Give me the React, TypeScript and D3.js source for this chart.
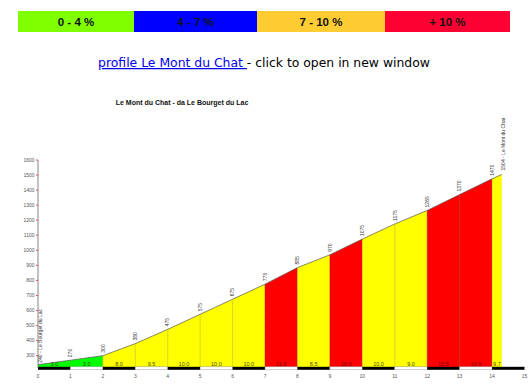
import React from "react";
import * as d3 from "d3";

// profile points (km, altitude) and the gradient of each stretch
const km = [0, 1, 2, 3, 4, 5, 6, 7, 8, 9, 10, 11, 12, 13, 14, 14.3];
const altitude = [240, 270, 300, 380, 475, 575, 675, 775, 885, 970, 1075, 1175, 1265, 1370, 1475, 1504];
const gradient = [3.0, 3.0, 8.0, 9.5, 10.0, 10.0, 10.0, 11.0, 8.5, 10.5, 10.0, 9.0, 10.5, 10.5, 9.7];
const yTicks = [300, 400, 500, 600, 700, 800, 900, 1000, 1100, 1200, 1300, 1400, 1500, 1600];
const xTicks = [0, 1, 2, 3, 4, 5, 6, 7, 8, 9, 10, 11, 12, 13, 14, 15];
const startLabel = "240 - Le Bourget du Lac";
const endLabel = "1504 - Le Mont du Chat";
const title = "Le Mont du Chat - da Le Bourget du Lac";

const legendLabels = ["0 - 4 %", "4 - 7 %", "7 - 10 %", "+ 10 %"];
const legendColors = ["#80ff00", "#0000ff", "#ffcc33", "#ff0033"];
const legendEdges = [18, 134, 257, 385, 510];

const fillFor = (g: number) => (g < 4 ? "#00ff00" : g < 7 ? "#0000ff" : g <= 10 ? "#ffff00" : "#ff0000");
const dashFor = (g: number) => (g < 4 ? "#00a000" : g < 7 ? "#000090" : g <= 10 ? "#a09a00" : "#9a0000");

export default function App() {
  const width = 532;
  const height = 385;
  const x = d3.scaleLinear().domain([0, 15]).range([38, 524.5]);
  const y = d3.scaleLinear().domain([220, 1600]).range([367.7, 160]);
  const base = y(220);

  const line = d3
    .line<number>()
    .x((d, i) => x(km[i]))
    .y((d) => y(d));

  const fmt = d3.format(".1f");

  return (
    <svg
      width={width}
      height={height}
      style={{ position: "absolute", left: 0, top: 0, background: "#fff" }}
      fontFamily="Arial, 'Liberation Sans', sans-serif"
    >
      {/* legend bar */}
      {legendLabels.map((l, i) => (
        <g key={l}>
          <rect
            x={legendEdges[i]}
            y={11}
            width={legendEdges[i + 1] - legendEdges[i]}
            height={21}
            fill={legendColors[i]}
          />
          <text
            x={(legendEdges[i] + legendEdges[i + 1]) / 2}
            y={21.5}
            dy="0.35em"
            textAnchor="middle"
            fontSize={11.5}
            fontWeight="bold"
            fill="#111"
          >
            {l}
          </text>
        </g>
      ))}

      {/* link line */}
      <text x={264} y={67} textAnchor="middle" fontSize={12.4} fontFamily="Verdana, 'DejaVu Sans', sans-serif">
        <tspan fill="#0000ee" textDecoration="underline">profile Le Mont du Chat </tspan>
        <tspan fill="#000"> - click to open in new window</tspan>
      </text>

      <text x={182} y={103} dy="0.35em" textAnchor="middle" fontSize={7} fontWeight="bold" fill="#111">
        {title}
      </text>

      {/* coloured stretches */}
      {gradient.map((g, i) => {
        const x0 = x(km[i]);
        const x1 = x(km[i + 1]);
        return (
          <polygon
            key={"s" + i}
            points={`${x0},${base} ${x0},${y(altitude[i])} ${x1},${y(altitude[i + 1])} ${x1},${base}`}
            fill={fillFor(g)}
          />
        );
      })}

      {/* km dividers */}
      {km.slice(1, -1).map((k, i) => (
        <line
          key={"d" + i}
          x1={x(k)}
          x2={x(k)}
          y1={base}
          y2={y(altitude[i + 1])}
          stroke={dashFor(gradient[i + 1])}
          strokeWidth={0.8}
          strokeDasharray="1,1"
        />
      ))}

      <path d={line(altitude) || ""} fill="none" stroke="#555" strokeWidth={0.7} />

      {/* gradient labels */}
      {gradient.map((g, i) => (
        <text
          key={"g" + i}
          x={x((km[i] + km[i + 1]) / 2)}
          y={365.5}
          textAnchor="middle"
          fontSize={5.5}
          fill={g > 10 ? "#700000" : "#4a4a00"}
        >
          {fmt(g)}
        </text>
      ))}

      {/* altitude labels */}
      {altitude.slice(1, -1).map((a, i) => (
        <text
          key={"a" + i}
          transform={`translate(${x(km[i + 1])},${y(a) - 3}) rotate(-90)`}
          dy="0.35em"
          fontSize={5}
          fill="#333"
        >
          {a}
        </text>
      ))}
      <text transform={`translate(${x(0) + 2.5},${y(altitude[0]) - 2}) rotate(-90)`} dy="0.35em" fontSize={5} fill="#333">
        {startLabel}
      </text>
      <text
        transform={`translate(${x(km[km.length - 1]) + 1.5},${y(altitude[altitude.length - 1]) - 4}) rotate(-90)`}
        dy="0.35em"
        fontSize={5}
        fill="#333"
      >
        {endLabel}
      </text>

      {/* km bar */}
      {xTicks.slice(0, -1).map((k) => (
        <rect
          key={"b" + k}
          x={x(k)}
          y={366.8}
          width={x(k + 1) - x(k)}
          height={3}
          fill={k % 2 === 0 ? "#000" : "#fff"}
          stroke={k % 2 === 0 ? "none" : "#999"}
          strokeWidth={0.5}
        />
      ))}

      {/* axes */}
      <line x1={x(0)} x2={x(0)} y1={y(1600)} y2={base} stroke="#666" strokeWidth={0.8} />
      {yTicks.map((t) => (
        <g key={"y" + t}>
          <line x1={x(0) - 2} x2={x(0)} y1={y(t)} y2={y(t)} stroke="#e03030" strokeWidth={0.8} />
          <text x={x(0) - 3.5} y={y(t)} dy="0.35em" textAnchor="end" fontSize={5} fill="#555">
            {t}
          </text>
        </g>
      ))}
      {xTicks.map((t) => (
        <text key={"x" + t} x={x(t)} y={376} dy="0.35em" textAnchor="middle" fontSize={5} fill="#555">
          {t}
        </text>
      ))}
    </svg>
  );
}
